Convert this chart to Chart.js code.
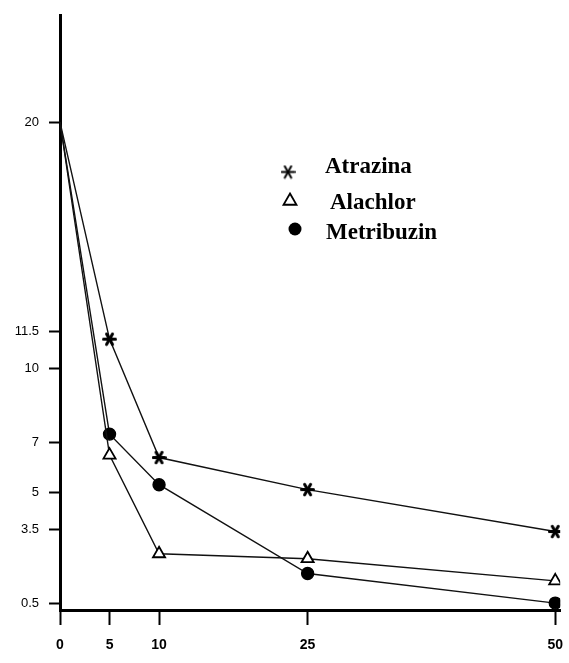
<!DOCTYPE html>
<html><head><meta charset="utf-8">
<script src="https://cdn.jsdelivr.net/npm/chart.js@4"></script>
<style>html,body{margin:0;padding:0;background:#fff}#w{width:569px;height:663px;position:relative}</style>
</head><body><div id="w"><canvas id="c"></canvas></div>
<script>
const xValues = [0, 5, 10, 25, 50];
const atrazina = [20, 11.2, 6.4, 5.1, 3.4];
const alachlor = [20, 6.5, 2.5, 2.3, 1.4];
const metribuzin = [20, 7.35, 5.3, 1.7, 0.5];
const yTickValues = [0.5, 3.5, 5, 7, 10, 11.5, 20];
const xTickValues = [0, 5, 10, 25, 50];
const seriesNames = ['Atrazina', 'Alachlor', 'Metribuzin'];

function makeAsterisk(size, lw) {
  const c = document.createElement('canvas');
  c.width = size; c.height = size;
  const g = c.getContext('2d');
  g.strokeStyle = '#000'; g.lineWidth = lw; g.lineCap = 'round';
  const r = size / 2 - lw / 2, cx = size / 2, cy = size / 2;
  for (const a of [0, 60, 120]) {
    const t = a * Math.PI / 180;
    g.beginPath();
    g.moveTo(cx - r * Math.cos(t), cy - r * Math.sin(t));
    g.lineTo(cx + r * Math.cos(t), cy + r * Math.sin(t));
    g.stroke();
  }
  return c;
}
const starImg = makeAsterisk(15, 3);
const starLegend = makeAsterisk(15, 2);

const pts = (ys) => xValues.map((x, i) => ({x: x, y: ys[i]}));
const radii = (r) => xValues.map(x => x === 0 ? 0 : r);

const legendPlugin = {
  id: 'customLegend',
  afterDraw(chart) {
    const ctx = chart.ctx;
    ctx.save();
    ctx.drawImage(starLegend, 288 - 7.5, 172 - 7.5);
    ctx.fillStyle = '#fff'; ctx.strokeStyle = '#000'; ctx.lineWidth = 1.8;
    Chart.helpers.drawPoint(ctx, {pointStyle: 'triangle', radius: 7.5, borderWidth: 1.8, rotation: 0}, 290, 201);
    ctx.fillStyle = '#000';
    ctx.beginPath(); ctx.arc(295, 229, 6.5, 0, Math.PI * 2); ctx.fill();
    ctx.font = 'bold 23px "Liberation Serif", "Times New Roman", serif';
    ctx.textBaseline = 'alphabetic';
    ctx.textAlign = 'left';
    ctx.fillText(seriesNames[0], 325, 173);
    ctx.fillText(seriesNames[1], 330, 209);
    ctx.fillText(seriesNames[2], 326, 239);
    ctx.restore();
  }
};

const common = {borderColor: '#111', borderWidth: 1.4, showLine: true, tension: 0};

new Chart(document.getElementById('c'), {
  type: 'scatter',
  data: {
    datasets: [
      Object.assign({label: seriesNames[0], data: pts(atrazina), pointStyle: starImg, pointRadius: radii(7)}, common),
      Object.assign({label: seriesNames[1], data: pts(alachlor), pointStyle: 'triangle', pointRadius: radii(7), pointBorderWidth: 1.8, pointBackgroundColor: '#fff', pointBorderColor: '#000'}, common),
      Object.assign({label: seriesNames[2], data: pts(metribuzin), pointStyle: 'circle', pointRadius: radii(6), pointBackgroundColor: '#000', pointBorderColor: '#000'}, common)
    ]
  },
  options: {
    responsive: true,
    maintainAspectRatio: false,
    animation: false,
    layout: {padding: {top: 15, right: 7, left: 0, bottom: 0}},
    plugins: {legend: {display: false}, tooltip: {enabled: false}},
    scales: {
      x: {
        type: 'linear', min: 0, max: 50.5,
        afterFit(s) { s.height = 53; s.paddingLeft = 0; s.paddingRight = 0; },
        afterBuildTicks(s) { s.ticks = xTickValues.map(v => ({value: v})); },
        border: {display: true, width: 3, color: '#000'},
        grid: {drawOnChartArea: false, drawTicks: true, tickLength: 15, tickWidth: 2, tickColor: '#000'},
        ticks: {color: '#000', padding: 12, maxRotation: 0, autoSkip: false,
          font: {family: '"Liberation Sans", Arial, sans-serif', size: 14, weight: 'bold'},
          callback: v => String(v)}
      },
      y: {
        type: 'linear', min: 0.22, max: 24.34,
        afterFit(s) { s.width = 60; s.paddingTop = 0; s.paddingBottom = 0; },
        afterBuildTicks(s) { s.ticks = yTickValues.map(v => ({value: v})); },
        border: {display: true, width: 3, color: '#000'},
        grid: {drawOnChartArea: false, drawTicks: true, tickLength: 11, tickWidth: 2, tickColor: '#000'},
        ticks: {color: '#000', padding: 10, autoSkip: false,
          font: {family: '"Liberation Sans", Arial, sans-serif', size: 13},
          callback: v => String(v)}
      }
    }
  },
  plugins: [legendPlugin]
});
</script>
</body></html>
